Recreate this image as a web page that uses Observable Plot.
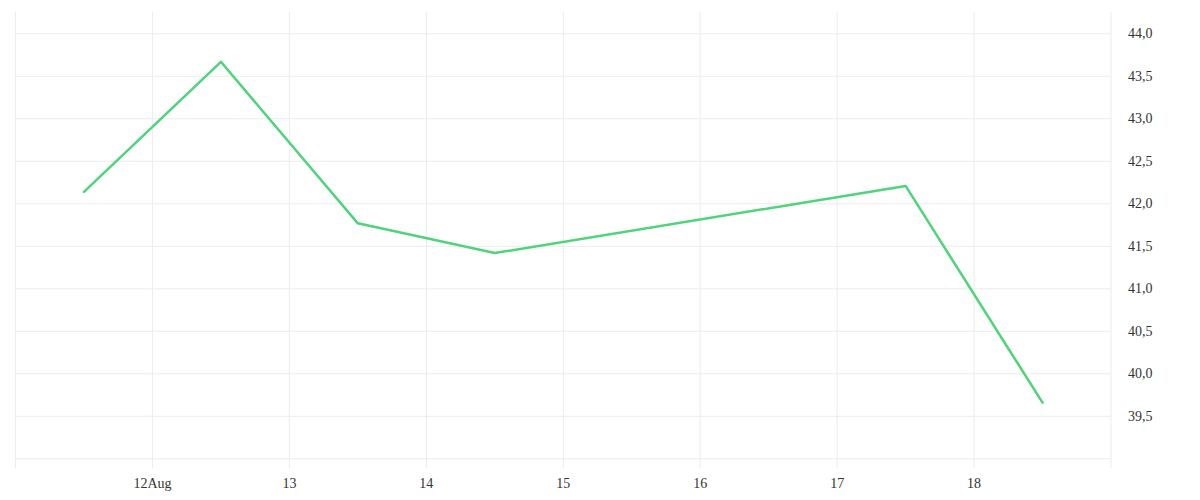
<!DOCTYPE html>
<html>
<head>
<meta charset="utf-8">
<script src="https://cdn.jsdelivr.net/npm/d3@7"></script>
<script src="https://cdn.jsdelivr.net/npm/@observablehq/plot@0.6"></script>
<style>
  html, body { margin: 0; padding: 0; background: #fff; }
  #chart svg { display: block; }
</style>
</head>
<body>
<div id="chart"></div>
<script>
// Data
const dates = ["2024-08-11T12:00Z", "2024-08-12T12:00Z", "2024-08-13T12:00Z", "2024-08-14T12:00Z", "2024-08-17T12:00Z", "2024-08-18T12:00Z"];
const values = [42.14, 43.67, 41.77, 41.42, 42.21, 39.66];
const xTickDates = ["2024-08-12", "2024-08-13", "2024-08-14", "2024-08-15", "2024-08-16", "2024-08-17", "2024-08-18"];
const xGridDates = ["2024-08-11", "2024-08-12", "2024-08-13", "2024-08-14", "2024-08-15", "2024-08-16", "2024-08-17", "2024-08-18", "2024-08-19"];
const yTicks = [39.5, 40.0, 40.5, 41.0, 41.5, 42.0, 42.5, 43.0, 43.5, 44.0];
const yGrid = [39.0, 39.5, 40.0, 40.5, 41.0, 41.5, 42.0, 42.5, 43.0, 43.5, 44.0];

const rows = dates.map((d, i) => ({date: new Date(d), value: values[i]}));
const xTicks = xTickDates.map(d => new Date(d + "T00:00Z"));
const xGrid = xGridDates.map(d => new Date(d + "T00:00Z"));
const xDomain = [xGrid[0], xGrid[xGrid.length - 1]];

const chart = Plot.plot({
  width: 1200,
  height: 500,
  marginLeft: 15,
  marginRight: 89.5,
  marginTop: 12,
  marginBottom: 32,
  style: {fontFamily: "'Liberation Serif', serif", fontSize: "14px", color: "#333", background: "#fff"},
  x: {type: "utc", domain: xDomain},
  y: {domain: [38.886, 44.25]},
  marks: [
    Plot.ruleX(xGrid, {x: d => d, stroke: "#ececec", strokeWidth: 1}),
    Plot.ruleY(yGrid, {y: d => d, stroke: "#ececec", strokeWidth: 1}),
    Plot.axisX({
      ticks: xTicks,
      tickSize: 0,
      tickPadding: 10,
      tickFormat: d => d.getUTCDate() === 12 ? "12Aug" : String(d.getUTCDate()),
      label: null,
      fill: "#333"
    }),
    Plot.axisY({
      anchor: "right",
      ticks: yTicks,
      tickSize: 0,
      tickPadding: 17,
      textAnchor: "start",
      tickFormat: d => d.toFixed(1).replace(".", ","),
      label: null,
      fill: "#333"
    }),
    Plot.line(rows, {x: "date", y: "value", stroke: "#4fd37b", strokeWidth: 2.5, curve: "linear"})
  ]
});
document.getElementById("chart").appendChild(chart);
</script>
</body>
</html>
